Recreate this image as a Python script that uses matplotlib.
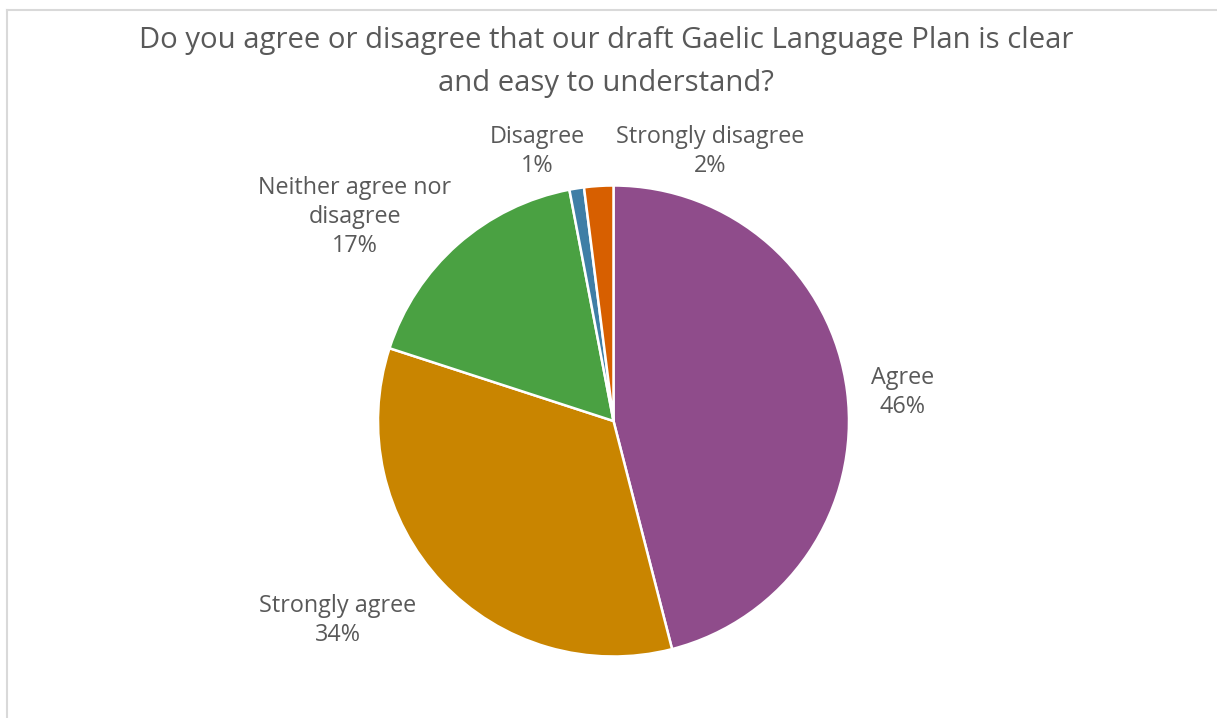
import matplotlib
matplotlib.use("Agg")
import matplotlib.pyplot as plt
from matplotlib.lines import Line2D

# Survey responses
categories = ["Agree", "Strongly agree", "Neither agree nor\ndisagree", "Disagree", "Strongly disagree"]
shares = [46, 34, 17, 1, 2]
colors = ["#8F4C8B", "#C98500", "#4AA142", "#3F7EA6", "#D75F00"]
title = "Do you agree or disagree that our draft Gaelic Language Plan is clear\nand easy to understand?"

# Label anchor points in pie units (radius = 1)
label_xy = [(1.229, 0.123), (-1.170, -0.849), (-1.098, 0.866), (-0.325, 1.146), (0.410, 1.146)]

W, H = 1217, 718
fig = plt.figure(figsize=(W / 100, H / 100), dpi=100)
fig.patch.set_facecolor("white")
plt.rcParams["font.family"] = ["Open Sans", "DejaVu Sans"]
text_color = "#595959"

# chart frame (top and left edges)
fig.add_artist(Line2D([6.5 / W, 1.0], [1 - 9.5 / H, 1 - 9.5 / H], color="#D9D9D9", lw=1.5,
                      transform=fig.transFigure))
fig.add_artist(Line2D([6.5 / W, 6.5 / W], [0.0, 1 - 9.5 / H], color="#D9D9D9", lw=1.5,
                      transform=fig.transFigure))

cx, cy, r = 613.5, 421.0, 235.5
ax = fig.add_axes([(cx - r) / W, (H - cy - r) / H, 2 * r / W, 2 * r / H])
ax.set_xlim(-1, 1)
ax.set_ylim(-1, 1)
ax.axis("off")

ax.pie(shares, colors=colors, startangle=90, counterclock=False, radius=1,
       wedgeprops=dict(edgecolor="white", linewidth=1.8))
ax.set_xlim(-1, 1)
ax.set_ylim(-1, 1)

for name, val, (lx, ly) in zip(categories, shares, label_xy):
    ax.text(lx, ly, f"{name}\n{val}%", ha="center", va="center", fontsize=16.8,
            color=text_color, linespacing=1.28, clip_on=False)

fig.text(606 / W, 1 - 62 / H, title, ha="center", va="center", fontsize=21.1,
         color=text_color, linespacing=1.62)

fig.savefig("out.png", dpi=100, facecolor="white")
